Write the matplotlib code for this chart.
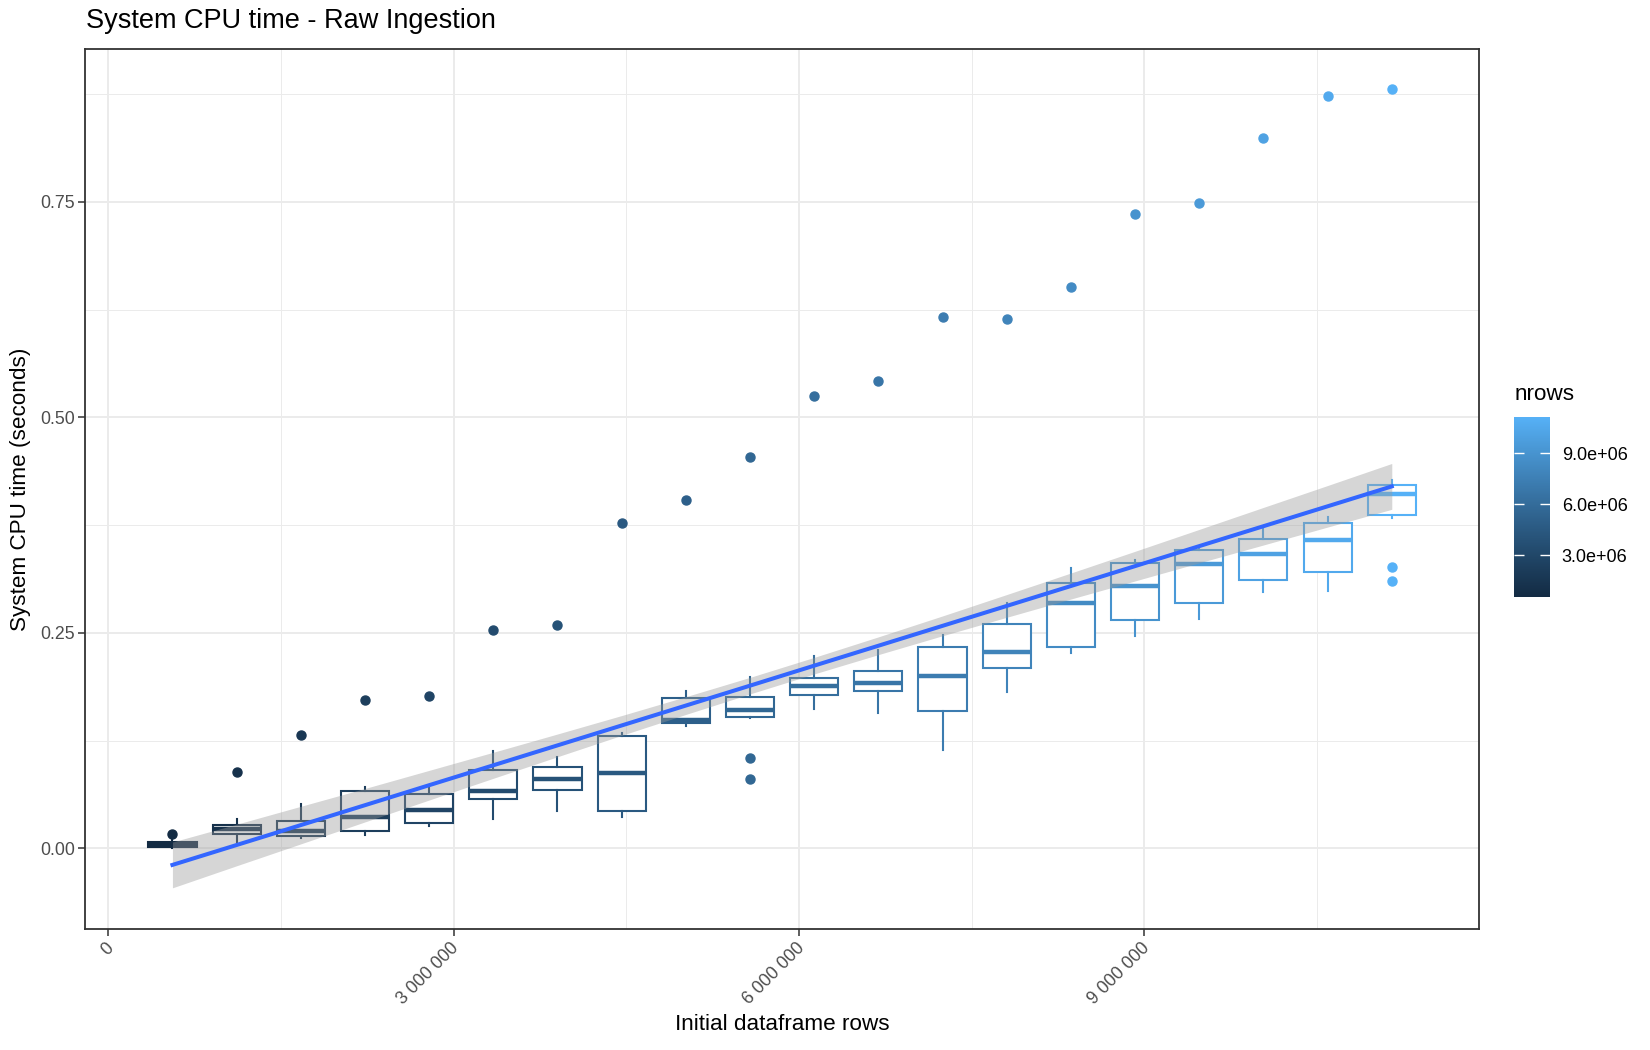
import numpy as np
import matplotlib
matplotlib.use("Agg")
import matplotlib.pyplot as plt
from matplotlib.colors import ListedColormap, Normalize, to_rgb
from matplotlib.cm import ScalarMappable
from matplotlib.ticker import FuncFormatter
from matplotlib.transforms import ScaledTranslation

plt.rcParams["font.family"] = ["Liberation Sans", "DejaVu Sans"]

# group sizes (initial dataframe rows)
nrows = [557500 * k for k in range(1, 21)]

# box statistics (seconds)
whislo = [0.0005, 0.0077, 0.0123, 0.0154, 0.026, 0.034, 0.0429, 0.0367, 0.1418, 0.1507,
          0.162, 0.1565, 0.1136, 0.1816, 0.227, 0.2465, 0.2666, 0.2975, 0.2987, 0.3833]
q1 = [0.0010, 0.0166, 0.0143, 0.020, 0.0297, 0.057, 0.0676, 0.0436, 0.145, 0.1519,
      0.178, 0.183, 0.159, 0.2087, 0.2337, 0.2647, 0.2847, 0.311, 0.3203, 0.3864]
med = [0.0045, 0.022, 0.020, 0.0367, 0.045, 0.0668, 0.0807, 0.0869, 0.1487, 0.161,
       0.188, 0.192, 0.1997, 0.228, 0.285, 0.304, 0.3296, 0.342, 0.3574, 0.4107]
q3 = [0.0075, 0.027, 0.032, 0.0668, 0.063, 0.0908, 0.0943, 0.130, 0.1742, 0.1758,
      0.198, 0.206, 0.234, 0.260, 0.308, 0.331, 0.3458, 0.3586, 0.3775, 0.4212]
whishi = [0.011, 0.034, 0.051, 0.0714, 0.0695, 0.113, 0.106, 0.134, 0.1824, 0.199,
          0.223, 0.230, 0.247, 0.285, 0.325, 0.334, 0.348, 0.371, 0.3844, 0.427]
outliers = [[0.0166], [0.0885], [0.131], [0.172], [0.177], [0.253], [0.259], [0.377],
            [0.404], [0.454, 0.105, 0.0803], [0.5247], [0.5418], [0.616], [0.614],
            [0.6516], [0.7358], [0.749], [0.8237], [0.8724], [0.8809, 0.3265, 0.3107]]

# linear smooth (lm) fit and its confidence half-width at each group
fit_mid = [-0.0193, 0.0038, 0.0269, 0.0500, 0.0732, 0.0963, 0.1194, 0.1425, 0.1656, 0.1887,
           0.2119, 0.2350, 0.2581, 0.2812, 0.3043, 0.3274, 0.3506, 0.3737, 0.3968, 0.4199]
fit_hw = [0.0266, 0.0241, 0.0218, 0.0194, 0.0172, 0.0151, 0.0132, 0.0115, 0.0103, 0.0096,
          0.0096, 0.0103, 0.0115, 0.0132, 0.0151, 0.0172, 0.0194, 0.0218, 0.0241, 0.0266]

grad_low, grad_high = "#132B43", "#56B1F7"


# ggplot-like gradient: interpolate in CIELAB
def _to_lab(rgb):
    c = np.array(rgb)
    c = np.where(c <= 0.04045, c / 12.92, ((c + 0.055) / 1.055) ** 2.4)
    m = np.array([[0.4124, 0.3576, 0.1805], [0.2126, 0.7152, 0.0722], [0.0193, 0.1192, 0.9505]])
    xyz = m @ c / np.array([0.95047, 1.0, 1.08883])
    f = np.where(xyz > 0.008856, np.cbrt(xyz), 7.787 * xyz + 16 / 116)
    return np.array([116 * f[1] - 16, 500 * (f[0] - f[1]), 200 * (f[1] - f[2])])


def _from_lab(lab):
    fy = (lab[0] + 16) / 116
    f = np.array([fy + lab[1] / 500, fy, fy - lab[2] / 200])
    xyz = np.where(f ** 3 > 0.008856, f ** 3, (f - 16 / 116) / 7.787) * np.array([0.95047, 1.0, 1.08883])
    mi = np.array([[3.2406, -1.5372, -0.4986], [-0.9689, 1.8758, 0.0415], [0.0557, -0.2040, 1.0570]])
    c = mi @ xyz
    c = np.where(c <= 0.0031308, 12.92 * c, 1.055 * np.clip(c, 0, None) ** (1 / 2.4) - 0.055)
    return np.clip(c, 0, 1)


lab_a, lab_b = _to_lab(to_rgb(grad_low)), _to_lab(to_rgb(grad_high))
cmap = ListedColormap([_from_lab(lab_a + t * (lab_b - lab_a)) for t in np.linspace(0, 1, 256)])
norm = Normalize(vmin=min(nrows), vmax=max(nrows))

fig = plt.figure(figsize=(16.5, 10.5), dpi=100)
ax = fig.add_axes([0.0518, 0.1152, 0.8443, 0.8378])

box_w = 0.75 * 557500
for i, x in enumerate(nrows):
    c = cmap(norm(x))
    stat = dict(whislo=whislo[i], q1=q1[i], med=med[i], q3=q3[i], whishi=whishi[i],
                fliers=outliers[i])
    ax.bxp([stat], positions=[x], widths=box_w, showcaps=False, patch_artist=True,
           manage_ticks=False,
           boxprops=dict(facecolor="white", edgecolor=c, linewidth=1.5),
           whiskerprops=dict(color=c, linewidth=1.5),
           medianprops=dict(color=c, linewidth=3.2, solid_capstyle="butt"),
           flierprops=dict(marker="o", markerfacecolor=c, markeredgecolor=c,
                           markersize=6.5, linestyle="none"))

lo = np.array(fit_mid) - np.array(fit_hw)
hi = np.array(fit_mid) + np.array(fit_hw)
ax.fill_between(nrows, lo, hi, color="#999999", alpha=0.4, linewidth=0, zorder=4)
ax.plot(nrows, fit_mid, color="#3366FF", linewidth=2.9, zorder=5)

ax.set_xlim(-198000, 11904000)
ax.set_ylim(-0.0937, 0.927)
ax.set_xticks([0, 3e6, 6e6, 9e6])
ax.set_xticks([1.5e6, 4.5e6, 7.5e6, 10.5e6], minor=True)
ax.set_yticks([0, 0.25, 0.5, 0.75])
ax.set_yticks([0.125, 0.375, 0.625, 0.875], minor=True)
ax.xaxis.set_major_formatter(FuncFormatter(lambda v, p: f"{int(v):,}".replace(",", " ")))
ax.yaxis.set_major_formatter(FuncFormatter(lambda v, p: f"{v:.2f}"))
ax.grid(which="major", color="#EBEBEB", linewidth=1.4)
ax.grid(which="minor", color="#EBEBEB", linewidth=0.7)
ax.set_axisbelow(True)
ax.tick_params(which="major", length=5, width=1.1, color="#333333",
               labelcolor="#4D4D4D", labelsize=12.8, pad=2.5)
ax.tick_params(which="minor", length=0)
for s in ax.spines.values():
    s.set_color("#333333")
    s.set_linewidth(1.3)

for lab in ax.get_xticklabels():
    lab.set_rotation(45)
    lab.set_ha("right")
    lab.set_va("top")
    lab.set_transform(lab.get_transform() + ScaledTranslation(0.09, 0, fig.dpi_scale_trans))

fig.text(85.5 / 1650, 1 - 21 / 1050, "System CPU time - Raw Ingestion",
         fontsize=19.5, ha="left", va="center")
fig.text(782 / 1650, 1 - 1024 / 1050, "Initial dataframe rows",
         fontsize=16.2, ha="center", va="center")
fig.text(21 / 1650, 1 - 489 / 1050, "System CPU time (seconds)",
         fontsize=16.2, ha="center", va="center", rotation=90)

# colour bar legend
cax = fig.add_axes([1513.7 / 1650, 1 - 596.7 / 1050, 36 / 1650, 180 / 1050])
cb = fig.colorbar(ScalarMappable(norm=norm, cmap=cmap), cax=cax)
cb.outline.set_visible(False)
cb.set_ticks([3e6, 6e6, 9e6])
cb.set_ticklabels(["3.0e+06", "6.0e+06", "9.0e+06"])
cax.yaxis.set_ticks_position("both")
cax.tick_params(direction="in", color="white", length=7, width=1,
                labelsize=13, pad=8.6, labelleft=False, labelright=True)
fig.text(1514.3 / 1650, 1 - 395 / 1050, "nrows", fontsize=16.2, ha="left", va="center")

fig.savefig("out.png", dpi=100)
